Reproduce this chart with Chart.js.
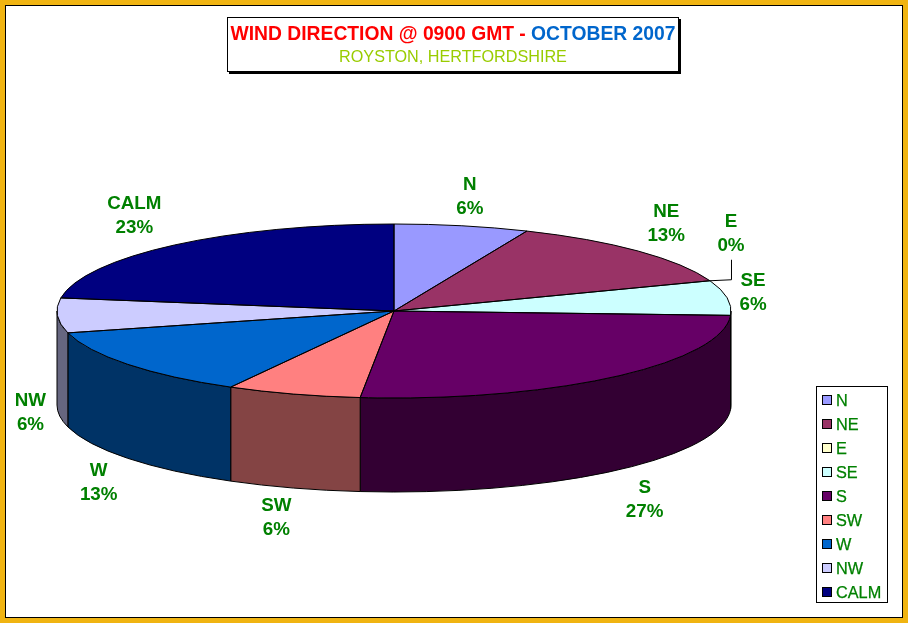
<!DOCTYPE html>
<html>
<head>
<meta charset="utf-8">
<script src="https://cdn.jsdelivr.net/npm/chart.js@4/dist/chart.umd.min.js"></script>
<style>
html,body{margin:0;padding:0;background:#fff;width:908px;height:623px;overflow:hidden;font-family:"Liberation Sans",Arial,sans-serif}
#frame{position:absolute;left:0;top:0;width:908px;height:623px;box-sizing:border-box;border:5px solid #F0B412;pointer-events:none}
#frame div{position:absolute;left:0;top:0;right:0;bottom:0;border:1px solid #000}
canvas{position:absolute;left:0;top:0}
#title{position:absolute;left:227px;top:17px;width:450px;height:53px;background:#fff;border:1px solid #000;box-shadow:2px 2px 0 #000;text-align:center}
#t1{position:absolute;left:0;right:0;top:4px;font-size:19.3px;line-height:24px;font-weight:bold;color:#FF0000;white-space:nowrap}
#t1 span{color:#0066CC}
#t2{position:absolute;left:0;right:0;top:28px;font-size:16.2px;line-height:20px;color:#99CC00;white-space:nowrap}
#legend{position:absolute;left:816px;top:386px;width:70px;height:215px;background:#fff;border:1px solid #000}
.li{position:absolute;left:5px;height:24px;line-height:24px;font-size:16.3px;color:#008000;white-space:nowrap;padding-left:14px;-webkit-text-stroke:0.25px #008000}
.li i{position:absolute;left:0;top:7px;width:8px;height:8px;border:1px solid #000}
</style>
</head>
<body>
<canvas id="c" width="908" height="623"></canvas>
<div id="frame"><div></div></div>
<div id="title"><div id="t1">WIND DIRECTION @ 0900 GMT - <span>OCTOBER 2007</span></div><div id="t2">ROYSTON, HERTFORDSHIRE</div></div>
<div id="legend"></div>
<script>
const categories = ["N","NE","E","SE","S","SW","W","NW","CALM"];
const sliceShares = [6.45,12.9,0,6.45,25.8,6.45,12.9,6.45,22.6];
const percentLabels = ["6%","13%","0%","6%","27%","6%","13%","6%","23%"];
const topColors = ["#9999FF","#993366","#FFFFCC","#CCFFFF","#660066","#FF8080","#0066CC","#CCCCFF","#000080"];
const wallColors = ["#4C4C80","#4C1A33","#808066","#668080","#330033","#844444","#003366","#666680","#000040"];
const labelShift = [[8,-29],[28,-27],[21,-47],[26,-5],[31,123],[-17,124],[-29,118],[-27,97],[-40,-29]];

const RX = 337, TILT = 87/337, DEPTH = 94, LINE = 24;
const labelFont = 'bold 18.8px "Liberation Sans", Arial, sans-serif';

const pie3d = {
  id: 'pie3d',
  beforeDatasetsDraw(chart) {
    const ctx = chart.ctx, arcs = chart.getDatasetMeta(0).data;
    const cx = arcs[0].x, cy = arcs[0].y, ry = RX * TILT;
    ctx.save();
    ctx.strokeStyle = '#000';
    ctx.lineWidth = 1;
    arcs.forEach((a, i) => {
      const s = Math.max(a.startAngle, 0), e = Math.min(a.endAngle, Math.PI);
      if (e <= s) return;
      ctx.beginPath();
      ctx.ellipse(cx, cy, RX, ry, 0, s, e);
      ctx.ellipse(cx, cy + DEPTH, RX, ry, 0, e, s, true);
      ctx.closePath();
      ctx.fillStyle = wallColors[i];
      ctx.fill();
      ctx.stroke();
    });
    ctx.restore();
    ctx.save();
    ctx.translate(cx, cy);
    ctx.scale(1, TILT);
    ctx.translate(-cx, -cy);
  },
  afterDatasetsDraw(chart) {
    const ctx = chart.ctx, arcs = chart.getDatasetMeta(0).data;
    ctx.restore();
    const cx = arcs[0].x, cy = arcs[0].y, ry = RX * TILT;
    ctx.save();
    ctx.strokeStyle = '#000';
    ctx.lineWidth = 1;
    arcs.forEach((a) => {
      if (a.endAngle - a.startAngle <= 0) return;
      ctx.beginPath();
      ctx.moveTo(cx, cy);
      ctx.ellipse(cx, cy, RX, ry, 0, a.startAngle, a.endAngle);
      ctx.closePath();
      ctx.stroke();
    });
    ctx.font = labelFont;
    ctx.fillStyle = '#008000';
    ctx.textAlign = 'center';
    ctx.textBaseline = 'middle';
    arcs.forEach((a, i) => {
      const mid = (a.startAngle + a.endAngle) / 2;
      const x = cx + RX * Math.cos(mid) + labelShift[i][0];
      const y = cy + ry * Math.sin(mid) + labelShift[i][1];
      ctx.fillText(categories[i], x, y - LINE / 2);
      ctx.fillText(percentLabels[i], x, y + LINE / 2);
      if (sliceShares[i] === 0) {
        const rimX = cx + RX * Math.cos(mid), rimY = cy + ry * Math.sin(mid);
        ctx.beginPath();
        ctx.moveTo(rimX, rimY);
        ctx.lineTo(x + 0.5, rimY - 1);
        ctx.lineTo(x + 0.5, rimY - 21);
        ctx.stroke();
      }
    });
    ctx.restore();
  }
};

new Chart(document.getElementById('c'), {
  type: 'pie',
  data: {
    labels: categories,
    datasets: [{ data: sliceShares, backgroundColor: topColors, borderWidth: 0, clip: false, radius: RX }]
  },
  options: {
    responsive: false,
    animation: false,
    devicePixelRatio: 1,
    layout: { padding: { left: 0, top: 0, right: 120, bottom: 1 } },
    plugins: { legend: { display: false }, tooltip: { enabled: false } }
  },
  plugins: [pie3d]
});

const legend = document.getElementById('legend');
categories.forEach((name, i) => {
  const row = document.createElement('div');
  row.className = 'li';
  row.style.top = (i * 24 + 1) + 'px';
  const sw = document.createElement('i');
  sw.style.background = topColors[i];
  row.appendChild(sw);
  row.appendChild(document.createTextNode(name));
  legend.appendChild(row);
});
</script>
</body>
</html>
